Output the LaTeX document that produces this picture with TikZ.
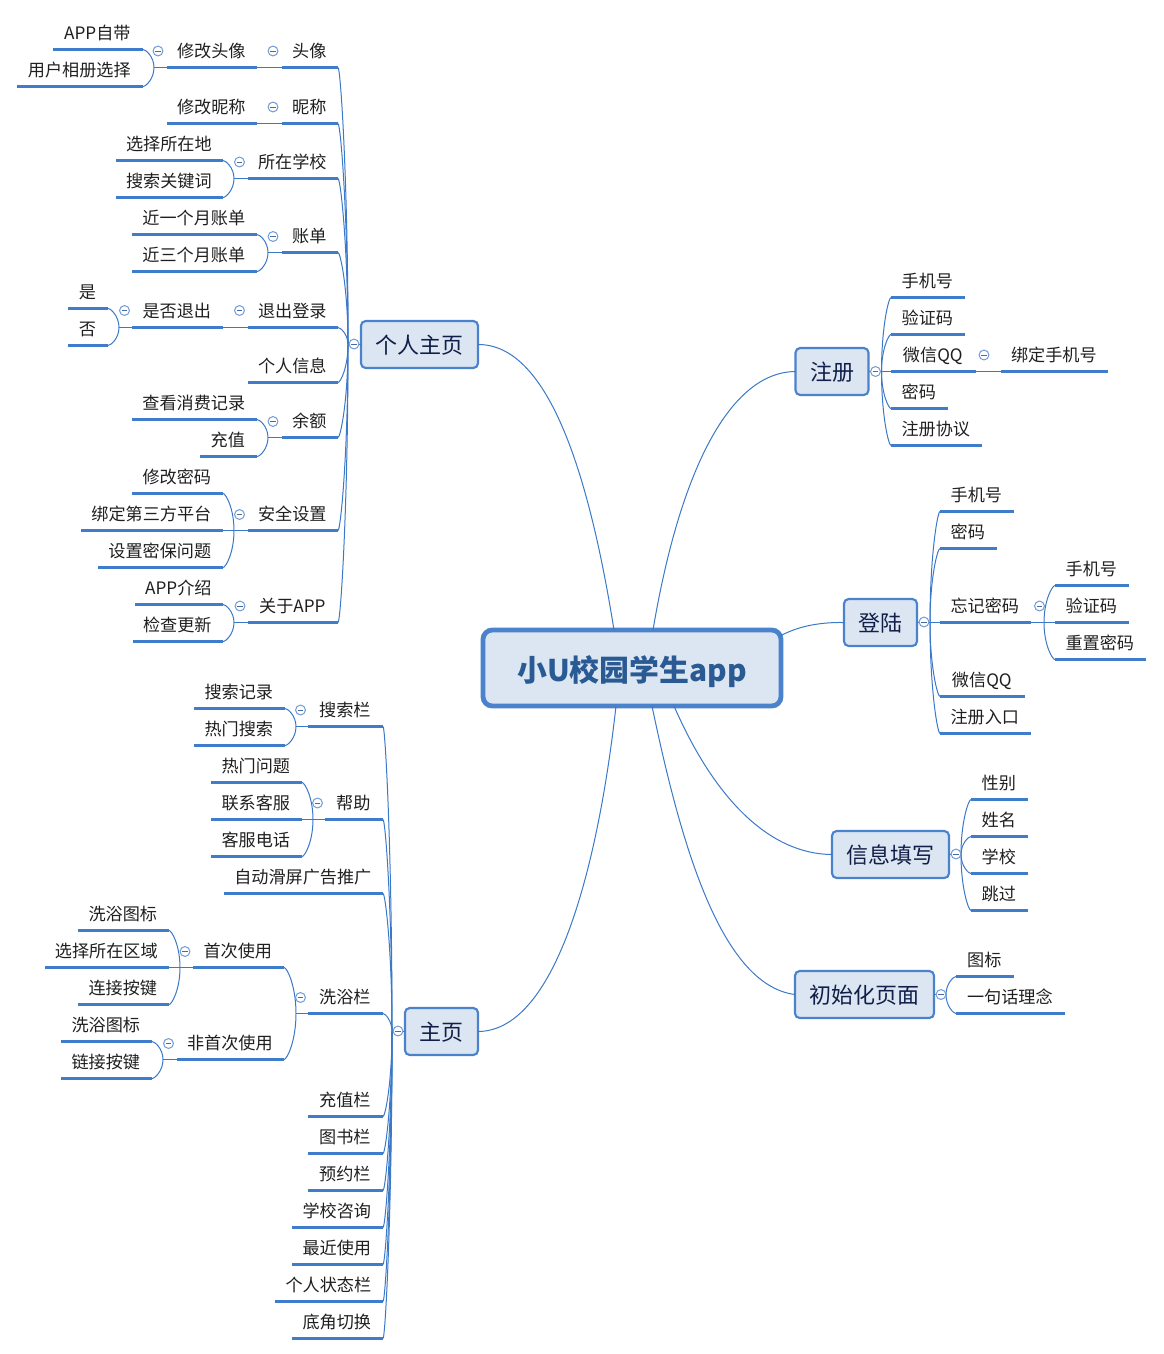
\documentclass[tikz,border=0pt]{standalone}
\usepackage{fontspec}
\setmainfont{Noto Sans CJK SC}
\usetikzlibrary{calc}
\definecolor{lk}{HTML}{3A78C8}
\definecolor{ul}{HTML}{3F7CCB}
\definecolor{bd}{HTML}{4A82CC}
\definecolor{bf}{HTML}{DCE6F2}
\definecolor{rt}{HTML}{2A5A94}
\definecolor{st}{HTML}{111E48}
\definecolor{tg}{HTML}{6F9BD6}
\definecolor{tm}{HTML}{4A6A9A}
\tikzset{
 topic/.style={anchor=south,inner xsep=0pt,inner ysep=0pt,outer sep=0pt,minimum height=25.5pt,text height=11.6pt,text depth=0.4pt,font=\fontsize{12.85pt}{14pt}\selectfont,text=black!88},
 uline/.style={fill=ul},
 link/.style={draw=lk,line width=.75pt},
 subbox/.style={draw=bd,fill=bf,line width=1.6pt,rounded corners=3.5pt,outer sep=0pt,inner sep=0pt,text=st,text height=13.2pt,text depth=0pt,font=\fontsize{16.5pt}{18pt}\selectfont},
 rootbox/.style={draw=bd,fill=bf,line width=3.6pt,rounded corners=7pt,outer sep=0pt,inner sep=0pt,text=rt,text height=20pt,text depth=0pt,font=\bfseries\fontsize{22.4pt}{24pt}\selectfont},
 togg/.style={circle,draw=tg,fill=white,line width=.75pt,minimum size=7.4pt,inner sep=0pt,outer sep=0pt},
 tmin/.style={draw=tm,line width=.6pt},
}
\newcommand\tp[5]{\pgfmathsetmacro\yrow{floor(#4)+0.5}
 \node[topic,minimum width={(#3-#2)*0.75pt}] (#1) at ({(#2+#3)/2},\yrow) {#5\kern1pt};
 \fill[uline] ([yshift=1pt]#1.south west) rectangle ([yshift=-1pt]#1.south east);}
\newcommand\bx[6]{\node[subbox,minimum width=#4*0.75pt,minimum height=#5*0.75pt] (#1) at (#2,#3) {#6};}
\newcommand\tog[3]{\node[togg] (#1) at (#2,#3) {};
 \draw[tmin] ([xshift=-2.2pt]#1.center) -- ([xshift=2.2pt]#1.center);}
\newcommand\lnk[2]{\draw[link] let \p1=(#1),\p2=(#2) in (\p1) .. controls (\x1,{\y1+0.6*(\y2-\y1)}) and ({\x2+0.25*(\x1-\x2)},\y2) .. (\p2);}
\newcommand\fan[5]{\coordinate (#1) at ($(#2)+(#3,0)$);
 \draw[link] (#2) -- (#1);
 \foreach \kid in {#5}{\lnk{#1}{\kid.#4}}}
\begin{document}
\begin{tikzpicture}[x=0.75pt,y=-0.75pt]
\useasboundingbox (0,0) rectangle (1164,1354);
% centre
\node[rootbox,minimum width=298*0.75pt,minimum height=76*0.75pt] (root) at (632,668) {小U校园学生app};
% boxes
\bx{me}{419.5}{344.5}{117}{47}{个人主页}
\bx{home}{441.5}{1031.5}{73}{47}{主页}
\bx{reg}{832}{371.5}{73}{47}{注册}
\bx{login}{880.5}{622.5}{73}{47}{登陆}
\bx{info}{890.5}{854.5}{117}{47}{信息填写}
\bx{init}{864.5}{994.5}{139}{47}{初始化页面}
% root links
\draw[link] (me.east) .. controls (550,344) and (590,480) .. ($(root.north)+(-18,0)$);
\draw[link] (reg.west) .. controls (730,372) and (680,470) .. ($(root.north)+(21,0)$);
\draw[link] (login.west) .. controls (815,622) and (795,628) .. ($(root.north east)+(-1,6)$);
\draw[link] (info.west) .. controls (770,854) and (715,800) .. ($(root.south)+(42,0)$);
\draw[link] (init.west) .. controls (720,985) and (680,840) .. ($(root.south)+(20,0)$);
\draw[link] (home.east) .. controls (560,1031) and (600,850) .. ($(root.south)+(-16,0)$);
% personal page
\tp{a1}{282}{338}{67.5}{头像}
\tp{a11}{167}{257}{67.5}{修改头像}
\tp{a111}{53}{143}{49.5}{APP自带}
\tp{a112}{17}{143}{86.5}{用户相册选择}
\tp{a2}{282}{338}{123.5}{昵称}
\tp{a21}{167}{257}{123.5}{修改昵称}
\tp{a3}{248}{338}{178.5}{所在学校}
\tp{a31}{116}{223}{160}{选择所在地}
\tp{a32}{116}{223}{197}{搜索关键词}
\tp{a4}{282}{338}{252.5}{账单}
\tp{a41}{132}{257}{234}{近一个月账单}
\tp{a42}{132}{257}{271}{近三个月账单}
\tp{a5}{248}{338}{327}{退出登录}
\tp{a51}{132}{223}{327}{是否退出}
\tp{a511}{68}{108}{308.5}{是}
\tp{a512}{68}{108}{345.5}{否}
\tp{a6}{248}{338}{382}{个人信息}
\tp{a7}{282}{338}{437.5}{余额}
\tp{a71}{132}{257}{419}{查看消费记录}
\tp{a72}{200}{257}{456}{充值}
\tp{a8}{248}{338}{530}{安全设置}
\tp{a81}{132}{223}{493}{修改密码}
\tp{a82}{81}{223}{530}{绑定第三方平台}
\tp{a83}{98}{223}{567}{设置密保问题}
\tp{a9}{248}{338}{622}{关于APP}
\tp{a91}{135}{223}{604}{APP介绍}
\tp{a92}{133}{223}{641}{检查更新}
\fan{ja}{me.west}{-13}{south east}{a1,a2,a3,a4,a5,a6,a7,a8,a9}
\draw[link] (a1.south west) -- (a11.south east);
\draw[link] (a2.south west) -- (a21.south east);
\draw[link] (a5.south west) -- (a51.south east);
\fan{ja11}{a11.south west}{-13}{south east}{a111,a112}
\fan{ja3}{a3.south west}{-14}{south east}{a31,a32}
\fan{ja4}{a4.south west}{-14}{south east}{a41,a42}
\fan{ja51}{a51.south west}{-13}{south east}{a511,a512}
\fan{ja7}{a7.south west}{-14}{south east}{a71,a72}
\fan{ja8}{a8.south west}{-14}{south east}{a81,a82,a83}
\fan{ja9}{a9.south west}{-14}{south east}{a91,a92}
\tog{ta}{354}{344}
\tog{ta1}{273}{51}
\tog{ta11}{158}{51}
\tog{ta2}{273}{107}
\tog{ta3}{239.5}{162}
\tog{ta4}{273}{236.5}
\tog{ta5}{239.5}{310.5}
\tog{ta51}{124.5}{310.5}
\tog{ta7}{273}{421.5}
\tog{ta8}{239.5}{514.5}
\tog{ta9}{240}{606}
% home
\tp{h1}{308}{383}{726}{搜索栏}
\tp{h11}{194}{285}{708}{搜索记录}
\tp{h12}{194}{285}{745}{热门搜索}
\tp{h2}{325}{383}{819}{帮助}
\tp{h21}{211}{302}{782}{热门问题}
\tp{h22}{211}{302}{819}{联系客服}
\tp{h23}{211}{302}{856}{客服电话}
\tp{h3}{224}{383}{893}{自动滑屏广告推广}
\tp{h4}{308}{383}{1013}{洗浴栏}
\tp{h41}{193}{284}{967}{首次使用}
\tp{h411}{78}{169}{930}{洗浴图标}
\tp{h412}{45}{169}{967}{选择所在区域}
\tp{h413}{78}{169}{1004}{连接按键}
\tp{h42}{177}{284}{1059}{非首次使用}
\tp{h421}{61}{152}{1041}{洗浴图标}
\tp{h422}{61}{152}{1078}{链接按键}
\tp{h5}{308}{383}{1116}{充值栏}
\tp{h6}{308}{383}{1153}{图书栏}
\tp{h7}{308}{383}{1190}{预约栏}
\tp{h8}{292}{383}{1227}{学校咨询}
\tp{h9}{292}{383}{1264}{最近使用}
\tp{h10}{275}{383}{1301}{个人状态栏}
\tp{h13}{292}{383}{1338}{底角切换}
\fan{jh}{home.west}{-13}{south east}{h1,h2,h3,h4,h5,h6,h7,h8,h9,h10,h13}
\fan{jh1}{h1.south west}{-12}{south east}{h11,h12}
\fan{jh2}{h2.south west}{-12}{south east}{h21,h22,h23}
\fan{jh4}{h4.south west}{-12}{south east}{h41,h42}
\fan{jh41}{h41.south west}{-13}{south east}{h411,h412,h413}
\fan{jh42}{h42.south west}{-14}{south east}{h421,h422}
\tog{th}{398}{1031}
\tog{th1}{300.5}{710}
\tog{th2}{317.5}{803}
\tog{th4}{300.5}{997.5}
\tog{th41}{185}{951.5}
\tog{th42}{168.5}{1043.5}
% register
\tp{r1}{891}{965}{297}{手机号}
\tp{r2}{891}{965}{334.3}{验证码}
\tp{r3}{891}{976}{371.3}{微信QQ}
\tp{r31}{1001}{1108}{371.3}{绑定手机号}
\tp{r4}{891}{948}{408.3}{密码}
\tp{r5}{891}{982}{445}{注册协议}
\fan{jr}{reg.east}{13}{south west}{r1,r2,r3,r4,r5}
\draw[link] (r3.south east) -- (r31.south west);
\tog{tr}{875.5}{371.5}
\tog{tr3}{984}{355}
% login
\tp{l1}{940}{1014}{511}{手机号}
\tp{l2}{940}{997}{548}{密码}
\tp{l3}{940}{1031}{622}{忘记密码}
\tp{l31}{1055}{1129}{585}{手机号}
\tp{l32}{1055}{1129}{622}{验证码}
\tp{l33}{1055}{1146}{659.5}{重置密码}
\tp{l4}{940}{1025}{696}{微信QQ}
\tp{l5}{940}{1031}{733}{注册入口}
\fan{jl}{login.east}{13}{south west}{l1,l2,l3,l4,l5}
\fan{jl3}{l3.south east}{13}{south west}{l31,l32,l33}
\tog{tl}{924}{622}
\tog{tl3}{1039.5}{606}
% info
\tp{i1}{971}{1028}{799}{性别}
\tp{i2}{971}{1028}{836}{姓名}
\tp{i3}{971}{1028}{873}{学校}
\tp{i4}{971}{1028}{910}{跳过}
\fan{ji}{info.east}{12}{south west}{i1,i2,i3,i4}
\tog{ti}{956}{854}
% init
\tp{n1}{956}{1014}{976}{图标}
\tp{n2}{956}{1065}{1013.5}{一句话理念}
\fan{jn}{init.east}{12}{south west}{n1,n2}
\tog{tn}{941}{994.5}
\end{tikzpicture}
\end{document}
